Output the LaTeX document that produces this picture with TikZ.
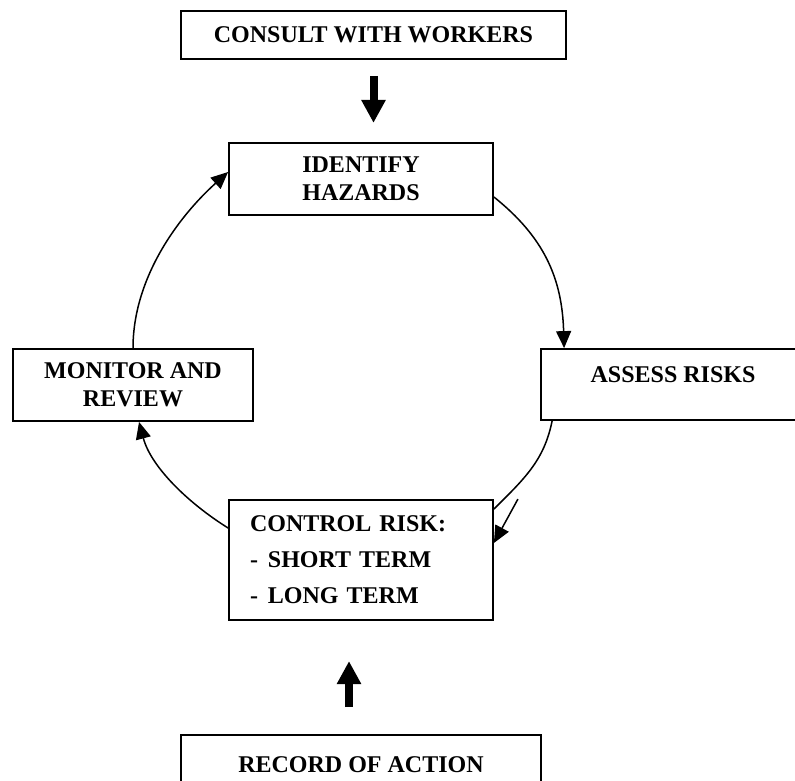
\documentclass[tikz,border=0pt]{standalone}
\usepackage{fontspec}
\setmainfont{Liberation Serif}
\usetikzlibrary{calc,arrows.meta,positioning}

\tikzset{
    box/.style={draw, line width=0.9pt, inner sep=0pt, align=center,
        font=\fontsize{12}{14}\selectfont\bfseries},
    bigarrow/.style={line width=4pt, -{Triangle[width=11.5pt,length=11.5pt]}},
    loopline/.style={line width=0.75pt},
    looparrow/.style={line width=0.75pt, -{Triangle[width=7.5pt,length=8.5pt]}}
}

\begin{document}
\begin{tikzpicture}[x=0.5pt, y=-0.5pt]
        \useasboundingbox (0,0) rectangle (795,780);
        \node[box, minimum width=192.5pt, minimum height=24pt] (consult) at (373.5,35) {CONSULT WITH WORKERS};
        \node[box, minimum width=132pt, minimum height=36pt] (identify) at (361,179) {IDENTIFY\\HAZARDS};
        \node[box, minimum width=132pt, minimum height=35.5pt] (assess) at (673,384.5) {ASSESS RISKS\\[-4.5pt]\mbox{}};
        \node[box, minimum width=120pt, minimum height=36pt] (monitor) at (133,385) {MONITOR AND\\REVIEW};
        \node[box, minimum width=132pt, minimum height=60pt, align=left, text width=111pt] (control) at (361,560)
            {CONTROL RISK:\\[4pt] -\hspace{5pt}SHORT TERM\\[4pt] -\hspace{5pt}LONG TERM};
        \node[box, minimum width=180pt, minimum height=30pt] (record) at (361,765) {RECORD OF ACTION};

        \coordinate (1) at ($(consult.south)+(0,16)$);
        \coordinate (2) at ($(1)+(0,47)$);
        \coordinate (3) at ($(record.north)+(-12,-27)$);
        \coordinate (4) at ($(3)+(0,-46)$);
        \coordinate (5) at ($(control.north east)+(24,0)$);

        \draw[bigarrow] (1)--(2);
        \draw[bigarrow] (3)--(4);

        % cycle
        \draw[looparrow] ($(identify.east)+(0,18)$) .. controls +(50,40) and +(-2,-70) .. ($(assess.north west)+(24,0)$);
        \draw[loopline] ($(assess.south west)+(12,0)$) .. controls +(-8,40) and +(30,-30) .. ($(control.north east)+(0,10)$);
        \draw[looparrow] (5)--($(control.east)+(0,-17)$);
        \draw[looparrow] ($(control.west)+(0,-32)$) .. controls +(-40,-25) and +(12,45) .. ($(monitor.south)+(6,0)$);
        \draw[looparrow] (monitor.north) .. controls +(0,-70) and +(-50,45) .. ($(identify.west)+(0,-7)$);
\end{tikzpicture}
\end{document}
